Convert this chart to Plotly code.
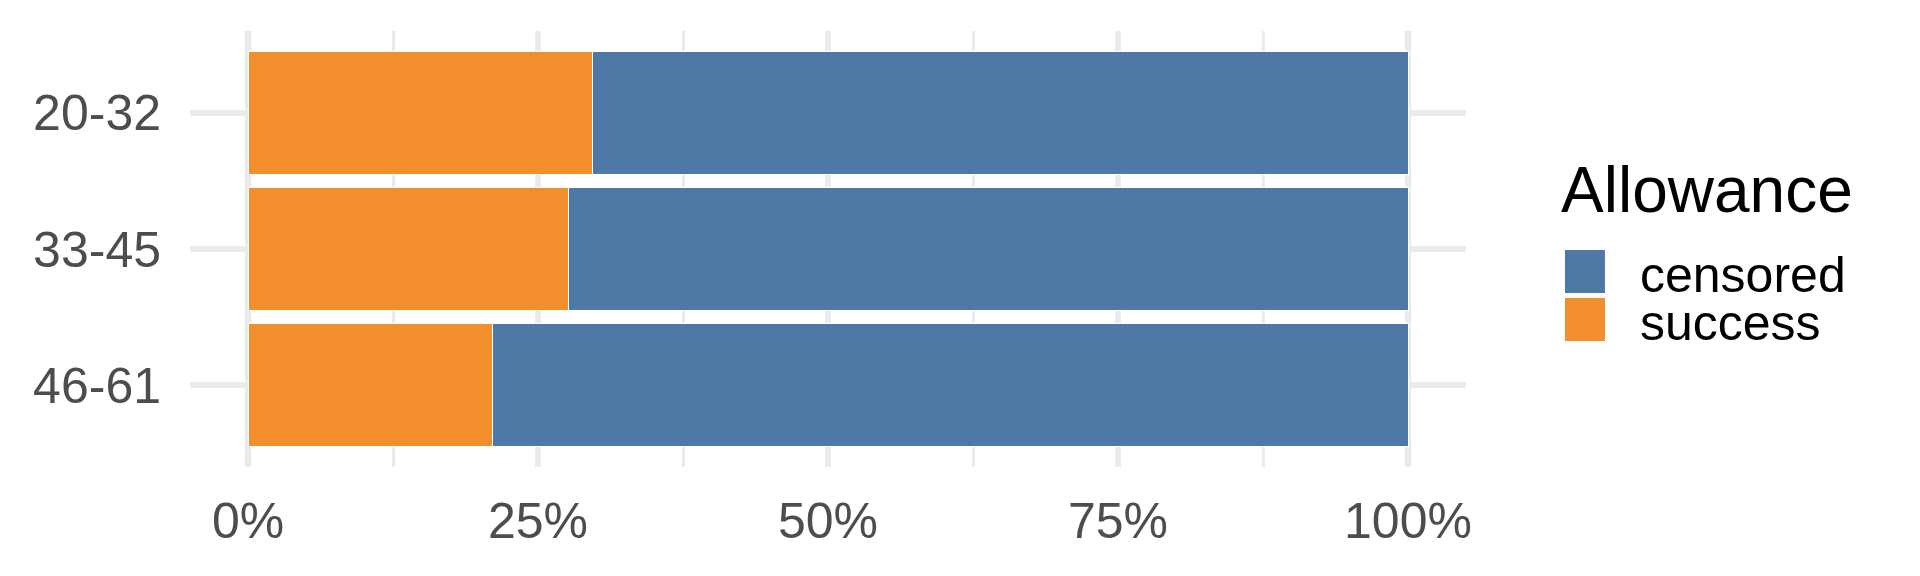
import plotly.graph_objects as go

# ---- data ----
age_groups = ["20-32", "33-45", "46-61"]
success_share = [0.297, 0.276, 0.211]
censored_share = [0.703, 0.724, 0.789]
x_tick_values = [0, 0.25, 0.5, 0.75, 1.0]
x_tick_labels = ["0%", "25%", "50%", "75%", "100%"]
legend_title = "Allowance"
series_names = ["censored", "success"]
series_colors = {"censored": "#4E79A7", "success": "#F28E2B"}

W, H = 1920, 576
L, R, T, B = 189.5, 454, 31, 109
FONT = "Liberation Sans, Arial, sans-serif"

fig = go.Figure()
fig.add_trace(go.Bar(
    y=age_groups, x=success_share, orientation="h", name="success",
    marker=dict(color=series_colors["success"], line=dict(color="white", width=1)),
    width=0.9, showlegend=False,
))
fig.add_trace(go.Bar(
    y=age_groups, x=censored_share, orientation="h", name="censored",
    marker=dict(color=series_colors["censored"], line=dict(color="white", width=1)),
    width=0.9, showlegend=False,
))

fig.update_layout(
    width=W, height=H,
    margin=dict(l=L, r=R, t=T, b=B, pad=0),
    barmode="stack",
    plot_bgcolor="white", paper_bgcolor="white",
    font=dict(family=FONT, color="#4D4D4D"),
)
fig.update_xaxes(
    range=[-0.05, 1.05],
    tickvals=x_tick_values, ticktext=x_tick_labels,
    showgrid=True, gridcolor="#EBEBEB", gridwidth=6,
    zeroline=False, showline=False, ticks="",
    tickfont=dict(size=50, color="#4D4D4D"),
    ticklabelstandoff=20,
    minor=dict(dtick=0.125, tick0=0, showgrid=True, gridcolor="#EBEBEB", gridwidth=3),
)
fig.update_yaxes(
    type="category", categoryorder="array", categoryarray=age_groups,
    range=[2.6, -0.6],
    showgrid=True, gridcolor="#EBEBEB", gridwidth=6,
    zeroline=False, showline=False, ticks="",
    tickfont=dict(size=50, color="#4D4D4D"),
    ticklabelstandoff=28,
)

# ---- manual legend (pixel positions converted to paper coords) ----
pw = W - L - R
ph = H - T - B
def px(x):
    return (x - L) / pw
def py(y):
    return 1 - (y - T) / ph

fig.add_annotation(
    x=px(1559), y=py(190), xref="paper", yref="paper",
    text=legend_title, showarrow=False, xanchor="left", yanchor="middle",
    font=dict(family=FONT, size=64, color="black"),
)
key_tops = [250, 298]
for name, top in zip(series_names, key_tops):
    fig.add_shape(
        type="rect", xref="paper", yref="paper",
        x0=px(1565), x1=px(1605), y0=py(top), y1=py(top + 43),
        fillcolor=series_colors[name], line=dict(width=0),
    )
    fig.add_annotation(
        x=px(1638), y=py(top + 25), xref="paper", yref="paper",
        text=name, showarrow=False, xanchor="left", yanchor="middle",
        font=dict(family=FONT, size=50, color="black"),
    )

fig.write_html("out.html", config={"displayModeBar": False},
               post_script="document.body.style.margin='0';")
